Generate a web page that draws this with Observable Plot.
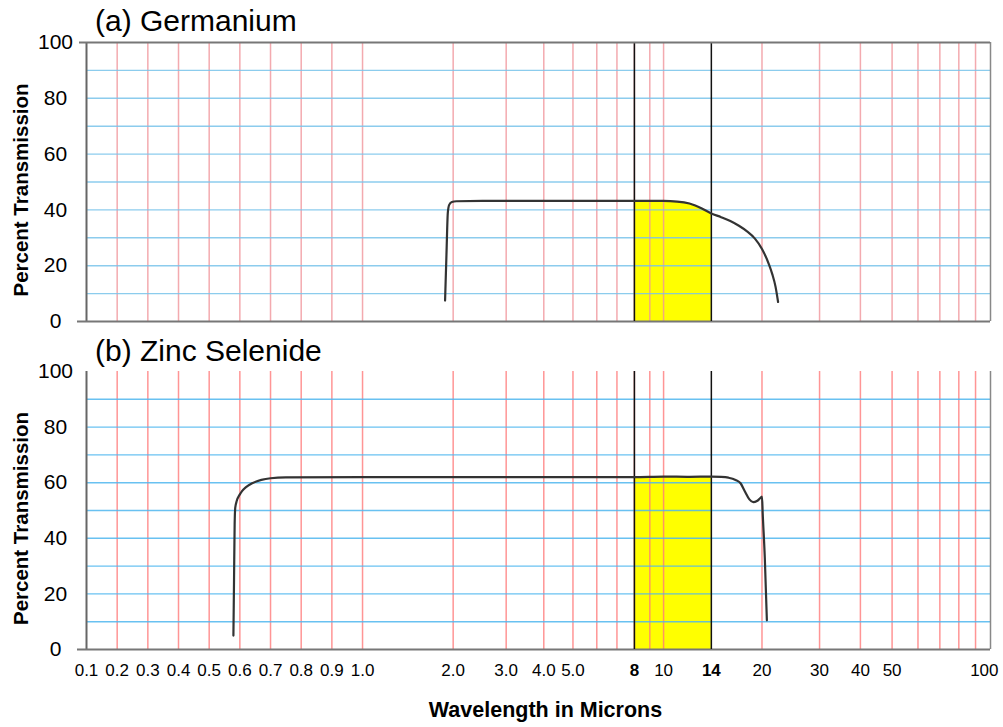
<!DOCTYPE html>
<html><head><meta charset="utf-8">
<script src="https://cdn.jsdelivr.net/npm/d3@7"></script>
<script src="https://cdn.jsdelivr.net/npm/@observablehq/plot@0.6"></script>
<style>
body{margin:0;background:#fff;font-family:"Liberation Sans",Arial,sans-serif;}
#wrap{position:relative;width:1003px;height:727px;overflow:hidden;}
.title{position:absolute;left:95px;font-size:30px;line-height:30px;color:#000;white-space:nowrap;}
#wrap svg{display:block;}
</style></head><body><div id="wrap"></div>
<script>
// ---- data ----
const germaniumWavelength = [1.88, 1.9, 1.92, 1.94, 1.98, 2.05, 2.5, 4, 6, 8, 10, 11, 12, 12.5, 13, 14, 15, 16, 17, 18, 19, 20, 21, 21.5, 22, 22.4];
const germaniumTransmission = [7.5, 24, 39, 41.8, 42.8, 43.1, 43.2, 43.2, 43.2, 43.2, 43.2, 43, 42.3, 41.6, 40.7, 38.7, 37.4, 36, 34.3, 32.3, 29.8, 26, 20.5, 17, 12.5, 7];
const zincSelenideWavelength = [0.579, 0.581, 0.583, 0.585, 0.59, 0.6, 0.607, 0.62, 0.64, 0.67, 0.7, 0.75, 1, 2, 5, 8, 10, 12, 14, 15, 15.8, 16.6, 17.2, 17.7, 18.3, 18.8, 19.3, 19.7, 20, 20.1, 20.4, 20.7];
const zincSelenideTransmission = [5, 25, 45, 51, 53.5, 55.8, 57, 58.4, 59.8, 61, 61.6, 61.9, 62, 62, 62, 62, 62.2, 62.1, 62.2, 62.1, 61.8, 61, 59.8, 57, 54, 53, 53.4, 54.3, 55, 49, 33, 10.5];
const percentTicks = [0, 20, 40, 60, 80, 100];
const percentGrid = [10, 20, 30, 40, 50, 60, 70, 80, 90];
const wavelengthGrid = [0.2, 0.3, 0.4, 0.5, 0.6, 0.7, 0.8, 0.9, 1, 2, 3, 4, 5, 6, 7, 8, 9, 10, 20, 30, 40, 50, 60, 70, 80, 90];
const wavelengthTicks = [0.1, 0.2, 0.3, 0.4, 0.5, 0.6, 0.7, 0.8, 0.9, 1, 2, 3, 4, 5, 8, 10, 14, 20, 30, 40, 50, 100];
const wavelengthTickLabels = ["0.1", "0.2", "0.3", "0.4", "0.5", "0.6", "0.7", "0.8", "0.9", "1.0", "2.0", "3.0", "4.0", "5.0", "8", "10", "14", "20", "30", "40", "50", "100"];
const windowBand = [8, 14];
const titles = ["(a) Germanium", "(b) Zinc Selenide"];

// ---- x position: linear 0.1–1, logarithmic 1–100 (as drawn on the original chart paper) ----
const DECADE_WEIGHTS = [0.917, 1, 1.086];
function u(w) {
  if (w <= 1) return DECADE_WEIGHTS[0] * (w - 0.1) / 0.9;
  if (w <= 10) return DECADE_WEIGHTS[0] + DECADE_WEIGHTS[1] * Math.log10(w);
  return DECADE_WEIGHTS[0] + DECADE_WEIGHTS[1] + DECADE_WEIGHTS[2] * Math.log10(w / 10);
}
const U_MIN = u(0.1), U_MAX = u(100);
const FONT = "Liberation Sans, Arial, sans-serif";

function panel({wl, tr, height, marginTop, marginBottom, red, blue, topBorder, xAxis}) {
  const pts = wl.map((w, i) => ({w, t: tr[i]}));
  const band = pts.filter(d => d.w >= windowBand[0] && d.w <= windowBand[1]);
  const marks = [
    Plot.areaY(band, {x: d => u(d.w), y: d => d.t, fill: "#ffff00", curve: "monotone-x"}),
    Plot.ruleX(wavelengthGrid, {x: d => u(d), stroke: red, strokeWidth: 1.5, strokeOpacity: 0.8}),
    Plot.ruleY(percentGrid, {y: d => d, stroke: blue, strokeWidth: 1.4, strokeOpacity: 0.85}),
    Plot.ruleX([0.1], {x: d => u(d), stroke: "#666", strokeWidth: 2}),
    Plot.ruleX([100], {x: d => u(d), stroke: "#888", strokeWidth: 1.5}),
    Plot.ruleY([0], {y: d => d, stroke: "#777", strokeWidth: 2, insetLeft: -9}),
    Plot.ruleX(windowBand, {x: d => u(d), stroke: "#111", strokeWidth: 1.5}),
    Plot.line(pts, {x: d => u(d.w), y: d => d.t, stroke: "#333", strokeWidth: 2.2, curve: "monotone-x"}),
    Plot.text(percentTicks, {y: d => d, text: d => String(d), frameAnchor: "left", dx: -31, fontSize: 21, textAnchor: "middle", fill: "#000"}),
    Plot.text(["Percent Transmission"], {frameAnchor: "left", textAnchor: "middle", rotate: -90, dx: -65, dy: 8, fontSize: 20.5, fontWeight: "bold", fill: "#000"})
  ];
  if (topBorder) marks.push(Plot.ruleY([100], {y: d => d, stroke: "#777", strokeWidth: 2, insetLeft: -7}));
  if (xAxis) {
    const idx = wavelengthTicks.map((d, i) => i);
    const last = idx.length - 1;
    const regular = idx.filter(i => i !== last && !windowBand.includes(wavelengthTicks[i]));
    const bold = idx.filter(i => windowBand.includes(wavelengthTicks[i]));
    const tickOpts = {x: i => u(wavelengthTicks[i]), text: i => wavelengthTickLabels[i], frameAnchor: "bottom", dy: 26, fontSize: 17, fill: "#000"};
    marks.push(
      Plot.text(regular, tickOpts),
      Plot.text(bold, {...tickOpts, fontWeight: "bold"}),
      Plot.text([last], {...tickOpts, textAnchor: "end", dx: 8}),
      Plot.text(["Wavelength in Microns"], {frameAnchor: "bottom", textAnchor: "middle", dy: 67, dx: 7, fontSize: 21.5, fontWeight: "bold", fill: "#000"})
    );
  }
  return Plot.plot({
    width: 1003, height, marginTop, marginBottom, marginLeft: 86, marginRight: 13,
    style: {fontFamily: FONT, background: "transparent", overflow: "visible"},
    x: {type: "linear", domain: [U_MIN, U_MAX], axis: null},
    y: {domain: [0, 100], axis: null},
    marks
  });
}

const wrap = document.getElementById("wrap");
wrap.appendChild(panel({wl: germaniumWavelength, tr: germaniumTransmission, height: 330, marginTop: 42, marginBottom: 9,
  red: "#f0959b", blue: "#78c3ea", topBorder: true, xAxis: false}));
wrap.appendChild(panel({wl: zincSelenideWavelength, tr: zincSelenideTransmission, height: 397, marginTop: 41, marginBottom: 78,
  red: "#ff7b7b", blue: "#4fb6ee", topBorder: false, xAxis: true}));

const tops = [6, 336];
titles.forEach((t, i) => {
  const d = document.createElement("div");
  d.className = "title";
  d.style.top = tops[i] + "px";
  d.textContent = t;
  wrap.appendChild(d);
});
</script></body></html>
